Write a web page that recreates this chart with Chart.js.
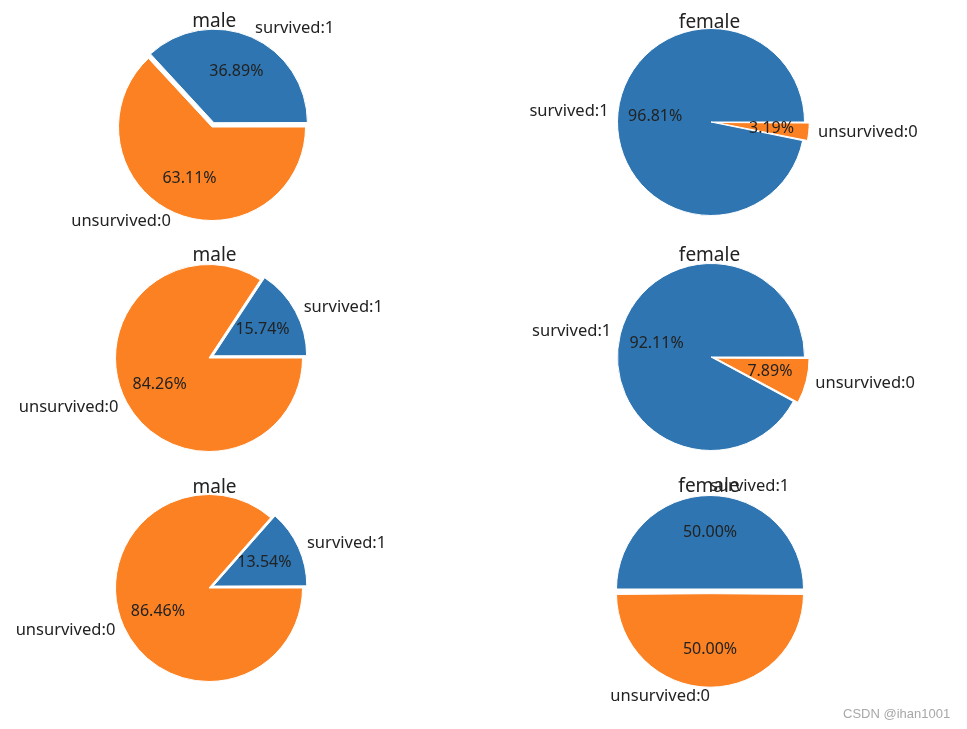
<!DOCTYPE html>
<html>
<head>
<meta charset="utf-8">
<script src="https://cdn.jsdelivr.net/npm/chart.js@4"></script>
<style>
  body { margin: 0; background: #fff; }
  #stage { position: relative; width: 967px; height: 729px; overflow: hidden; background: #fff; }
  #stage canvas { position: absolute; }
  #mark { position: absolute; left: 843px; top: 706px; font: 13px "Liberation Sans", sans-serif; color: #a8a8a8; white-space: nowrap; }
</style>
</head>
<body>
<div id="stage">
  <div id="mark">CSDN @ihan1001</div>
</div>
<script>
// one pie per subplot
const titles = ['male', 'female', 'male', 'female', 'male', 'female'];
const survived_pct = [36.89, 96.81, 15.74, 92.11, 13.54, 50.00];
const unsurvived_pct = [63.11, 3.19, 84.26, 7.89, 86.46, 50.00];
// chart.js draws clockwise, so unsurvived goes first to keep matplotlib's layout
const slice_labels = ['unsurvived:0', 'survived:1'];

// page layout: pie centres and title anchors (px)
const centers = [[211.7, 127], [710.5, 121.5], [208.5, 357.5], [710.5, 356.5], [208.5, 588.3], [710, 589]];
const title_pos = [[214, 26.5], [709, 27], [214, 260], [709, 260], [214, 493], [709, 492]];

const R = 93.5;
const EXPLODE = 4.7;
const CW = 460, CH = 250;
const BLUE = '#2e75b1', ORANGE = '#fb8122';
const FONT = '"Noto Sans", "DejaVu Sans", sans-serif';

const pie_text = {
  id: 'pie_text',
  afterDatasetsUpdate(chart) {
    // arc.draw grows an offset arc by offset/4*fix, undo it so the wedge keeps its radius
    chart.getDatasetMeta(0).data.forEach((arc) => {
      const off = arc.options.offset || 0;
      if (!off) return;
      const fix = 1 - Math.sin(Math.min(Math.PI, arc.endAngle - arc.startAngle));
      arc.outerRadius = R - off / 4 * fix;
    });
  },
  afterDatasetsDraw(chart, args, opts) {
    const ctx = chart.ctx;
    const meta = chart.getDatasetMeta(0);
    const values = chart.data.datasets[0].data;
    ctx.save();
    ctx.fillStyle = '#222';
    meta.data.forEach((arc, i) => {
      const mid = (arc.startAngle + arc.endAngle) / 2;
      const shift = (arc.options.offset || 0) / 4;
      const x = arc.x + Math.cos(mid) * shift;
      const y = arc.y + Math.sin(mid) * shift;
      ctx.font = '16px ' + FONT;
      ctx.textBaseline = 'middle';
      ctx.textAlign = 'center';
      ctx.fillText(values[i].toFixed(2) + '%', x + Math.cos(mid) * 0.6 * R, y + Math.sin(mid) * 0.6 * R);
      ctx.font = '16.5px ' + FONT;
      ctx.textAlign = Math.cos(2 * Math.PI - mid) > 0 ? 'left' : 'right';
      ctx.fillText(chart.data.labels[i], x + Math.cos(mid) * 1.1 * R, y + Math.sin(mid) * 1.1 * R);
    });
    ctx.font = '19px ' + FONT;
    ctx.textAlign = 'center';
    ctx.textBaseline = 'alphabetic';
    ctx.fillText(opts.text, opts.x, opts.y);
    ctx.restore();
  }
};

const stage = document.getElementById('stage');

titles.forEach((title, i) => {
  const [cx, cy] = centers[i];
  const left = cx - CW / 2, top = cy - CH / 2;
  const canvas = document.createElement('canvas');
  canvas.width = CW;
  canvas.height = CH;
  canvas.style.left = left + 'px';
  canvas.style.top = top + 'px';
  stage.insertBefore(canvas, stage.firstChild);

  const off = EXPLODE * 4;
  new Chart(canvas, {
    type: 'pie',
    data: {
      labels: slice_labels,
      datasets: [{
        data: [unsurvived_pct[i], survived_pct[i]],
        backgroundColor: [ORANGE, BLUE],
        borderColor: '#fff',
        borderWidth: 1,
        offset: title === 'male' ? [0, off] : [off, 0],
        rotation: 90,
        radius: R
      }]
    },
    options: {
      responsive: false,
      animation: false,
      events: [],
      rotation: 90,
      radius: R,
      plugins: {
        legend: { display: false },
        tooltip: { enabled: false },
        pie_text: { text: title, x: title_pos[i][0] - left, y: title_pos[i][1] - top }
      }
    },
    plugins: [pie_text]
  });
});
</script>
</body>
</html>
